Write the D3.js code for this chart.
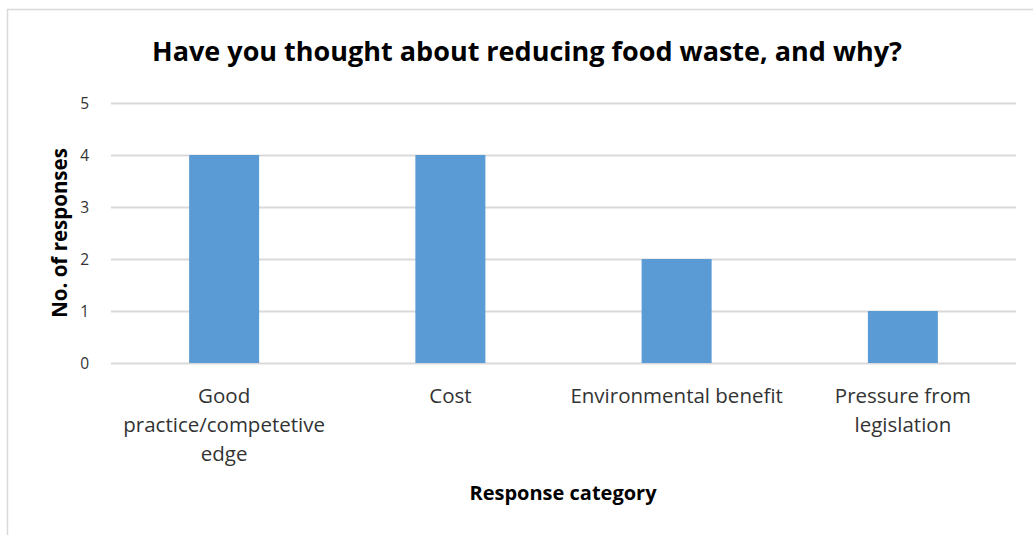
<!DOCTYPE html>
<html>
<head>
<meta charset="utf-8">
<script src="https://cdn.jsdelivr.net/npm/d3@7"></script>
<style>
  html, body { margin: 0; padding: 0; background: #fff; }
  svg { display: block; }
  text { font-family: "Open Sans", "Noto Sans", sans-serif; }
</style>
</head>
<body>
<svg id="chart" width="1033" height="535"></svg>
<script>
// Survey responses
const categories = ["Good practice/competetive edge", "Cost", "Environmental benefit", "Pressure from legislation"];
const responses = [4, 4, 2, 1];
const yTicks = [0, 1, 2, 3, 4, 5];

const titleText = "Have you thought about reducing food waste, and why?";
const yTitle = "No. of responses";
const xTitle = "Response category";

const W = 1033, H = 535;
const plot = { left: 111, right: 1016, top: 103, bottom: 363 };

const svg = d3.select("#chart");

// Chart frame
svg.append("rect")
  .attr("x", 7.5).attr("y", 9.5)
  .attr("width", W).attr("height", H)
  .attr("fill", "#fff")
  .attr("stroke", "#d9d9d9").attr("stroke-width", 1.5);

const x = d3.scaleBand().domain(categories).range([plot.left, plot.right]).paddingInner(0).paddingOuter(0);
const y = d3.scaleLinear().domain([0, 5]).range([plot.bottom, plot.top]);

// Gridlines + y tick labels via axis
const yAxis = svg.append("g")
  .attr("transform", `translate(${plot.left},0)`)
  .call(d3.axisLeft(y).tickValues(yTicks).tickFormat(d3.format("d"))
    .tickSize(-(plot.right - plot.left)).tickPadding(22));
yAxis.select(".domain").remove();
yAxis.selectAll(".tick line").attr("stroke", "#d9d9d9").attr("stroke-width", 2);
yAxis.selectAll(".tick text")
  .attr("fill", "#333").attr("font-size", 15.5).attr("dy", "0.35em");

// Bars
const barW = 70;
svg.append("g").selectAll("rect")
  .data(categories)
  .join("rect")
  .attr("x", (d) => x(d) + x.bandwidth() / 2 - barW / 2)
  .attr("width", barW)
  .attr("y", (d, i) => y(responses[i]))
  .attr("height", (d, i) => y(0) - y(responses[i]))
  .attr("fill", "#5b9bd5");

// Category labels, wrapped to the band width
const xAxis = svg.append("g")
  .attr("transform", `translate(0,${plot.bottom})`)
  .call(d3.axisBottom(x).tickSize(0).tickPadding(0).tickFormat(""));
xAxis.select(".domain").remove();

function wrap(sel, width) {
  sel.each(function (d) {
    const t = d3.select(this);
    const words = d.split(/\s+/);
    let line = [];
    let tspan = t.append("tspan").attr("x", 0).attr("dy", 0);
    for (const w of words) {
      line.push(w);
      tspan.text(line.join(" "));
      if (tspan.node().getComputedTextLength() > width && line.length > 1) {
        line.pop();
        tspan.text(line.join(" "));
        line = [w];
        tspan = t.append("tspan").attr("x", 0).attr("dy", 29).text(w);
      }
    }
  });
}

xAxis.selectAll(".tick").append("text")
  .datum((d) => d)
  .attr("y", 40)
  .attr("text-anchor", "middle")
  .attr("fill", "#333")
  .attr("font-size", 20.5)
  .call(wrap, x.bandwidth());

// Title
svg.append("text")
  .attr("x", 527).attr("y", 61)
  .attr("text-anchor", "middle")
  .attr("font-size", 27).attr("font-weight", "bold")
  .attr("fill", "#000")
  .text(titleText);

// Axis titles
svg.append("text")
  .attr("transform", `translate(67,233) rotate(-90)`)
  .attr("text-anchor", "middle")
  .attr("font-size", 20.5).attr("font-weight", "bold")
  .attr("fill", "#000")
  .text(yTitle);

svg.append("text")
  .attr("x", 563).attr("y", 500)
  .attr("text-anchor", "middle")
  .attr("font-size", 20).attr("font-weight", "bold")
  .attr("fill", "#000")
  .text(xTitle);
</script>
</body>
</html>
